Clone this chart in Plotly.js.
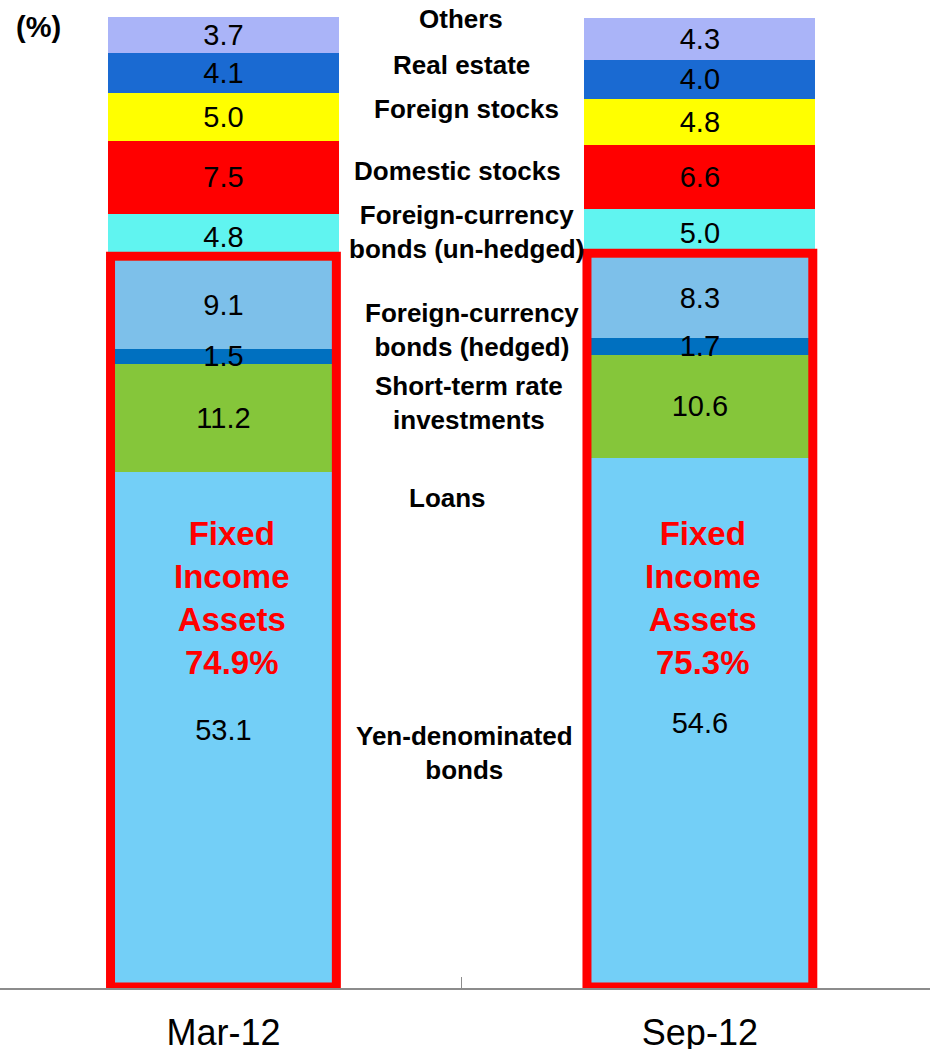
<!DOCTYPE html>
<html><head><meta charset="utf-8">
<script src="https://cdn.plot.ly/plotly-3.0.1.min.js"></script>
<style>html,body{margin:0;padding:0;background:#fff}#chart{width:930px;height:1049px}</style>
</head><body><div id="chart"></div>
<script>
// ---- data ----
const categories = ['Mar-12', 'Sep-12'];
const yenBonds = [53.1, 54.6];
const loans = [11.2, 10.6];
const shortTerm = [1.5, 1.7];
const fxHedged = [9.1, 8.3];
const fxUnhedged = [4.8, 5.0];
const domesticStocks = [7.5, 6.6];
const foreignStocks = [5.0, 4.8];
const realEstate = [4.1, 4.0];
const others = [3.7, 4.3];
const fixedIncomeShare = ['74.9%', '75.3%'];

// ---- style ----
const FONT = 'Liberation Sans, Arial, sans-serif';
const W = 930, H = 1049, T = 17, B = 61;
const plotH = H - T - B;
const px2x = p => p / W;
const px2y = p => (H - B - p) / plotH;

const series = [
  {name: 'Yen-denominated bonds', values: yenBonds, color: '#73cff7'},
  {name: 'Loans', values: loans, color: '#85c63a'},
  {name: 'Short-term rate investments', values: shortTerm, color: '#0070c0'},
  {name: 'Foreign-currency bonds (hedged)', values: fxHedged, color: '#7dc0ea'},
  {name: 'Foreign-currency bonds (un-hedged)', values: fxUnhedged, color: '#60f4f0'},
  {name: 'Domestic stocks', values: domesticStocks, color: '#ff0000'},
  {name: 'Foreign stocks', values: foreignStocks, color: '#ffff00'},
  {name: 'Real estate', values: realEstate, color: '#1a6ad2'},
  {name: 'Others', values: others, color: '#aab4f8'}
];
const fixedIncomeSeries = [yenBonds, loans, shortTerm, fxHedged];

const traces = series.map(s => ({
  type: 'bar', x: categories, y: s.values, name: s.name,
  marker: {color: s.color, line: {width: 0}},
  hoverinfo: 'name+y'
}));

// value labels at segment centres (drawn above all bars)
const LABEL_NUDGE = 0.25; // small downward nudge, in %
const lx = [], ly = [], lt = [];
const cum = categories.map(() => 0);
series.forEach(s => {
  s.values.forEach((v, i) => {
    lx.push(categories[i]); ly.push(cum[i] + v / 2 - LABEL_NUDGE); lt.push(v.toFixed(1));
    cum[i] += v;
  });
});
traces.push({
  type: 'scatter', mode: 'text', x: lx, y: ly, text: lt,
  textposition: 'middle center',
  textfont: {family: FONT, size: 29, color: '#000'},
  hoverinfo: 'skip', cliponaxis: false, showlegend: false
});

// red boxes around fixed-income assets
const shapes = categories.map((c, i) => {
  const top = fixedIncomeSeries.reduce((a, arr) => a + arr[i], 0);
  return {
    type: 'rect', xref: 'x', yref: 'y',
    x0: i - 0.237, x1: i + 0.237, y0: 0.1, y1: top + 0.46,
    line: {color: '#ff0000', width: 9}, fillcolor: 'rgba(0,0,0,0)', layer: 'above'
  };
});

// middle category labels (pixel centre x, y)
const midLabels = [
  ['Others', 461, 19.3],
  ['Real estate', 461.5, 65],
  ['Foreign stocks', 466, 109.3],
  ['Domestic stocks', 457, 171],
  ['Foreign-currency<br>bonds (un-hedged)', 466, 231.9],
  ['Foreign-currency<br>bonds (hedged)', 472, 329.8],
  ['Short-term rate<br>investments', 469, 403.2],
  ['Loans', 447, 497.7],
  ['Yen-denominated<br>bonds', 464, 752.7]
];
const annotations = midLabels.map(([t, x, y]) => ({
  text: '<b>' + t + '</b>', xref: 'paper', yref: 'paper', x: px2x(x), y: px2y(y),
  xanchor: 'center', yanchor: 'middle', showarrow: false, align: 'center',
  font: {family: FONT, size: 26, color: '#000'}
}));
const fiX = [232, 703];
fixedIncomeShare.forEach((s, i) => {
  annotations.push({
    text: '<b>Fixed<br>Income<br>Assets<br>' + s + '</b>', xref: 'paper', yref: 'paper',
    x: px2x(fiX[i]), y: px2y(598), xanchor: 'center', yanchor: 'middle', showarrow: false,
    align: 'center', font: {family: FONT, size: 33, color: '#ff0000'}
  });
});
annotations.push({
  text: '<b>(%)</b>', xref: 'paper', yref: 'paper', x: px2x(38), y: px2y(27),
  xanchor: 'center', yanchor: 'middle', showarrow: false,
  font: {family: FONT, size: 29, color: '#000'}
});

const layout = {
  width: W, height: H,
  margin: {l: 0, r: 0, t: T, b: B, pad: 0},
  barmode: 'stack', bargap: 0.515, showlegend: false,
  paper_bgcolor: '#fff', plot_bgcolor: '#fff',
  xaxis: {
    type: 'category', range: [-0.469, 1.483], fixedrange: true,
    showline: true, linecolor: '#8c8c8c', linewidth: 2,
    ticks: 'inside', tickson: 'boundaries', ticklen: 11, tickwidth: 1, tickcolor: '#8c8c8c',
    tickfont: {family: FONT, size: 36, color: '#000'},
    ticklabelstandoff: 12,
    showgrid: false, zeroline: false
  },
  yaxis: {range: [0, 100], visible: false, fixedrange: true},
  shapes: shapes,
  annotations: annotations
};

Plotly.newPlot('chart', traces, layout, {displayModeBar: false, staticPlot: true});
</script>
</body></html>
